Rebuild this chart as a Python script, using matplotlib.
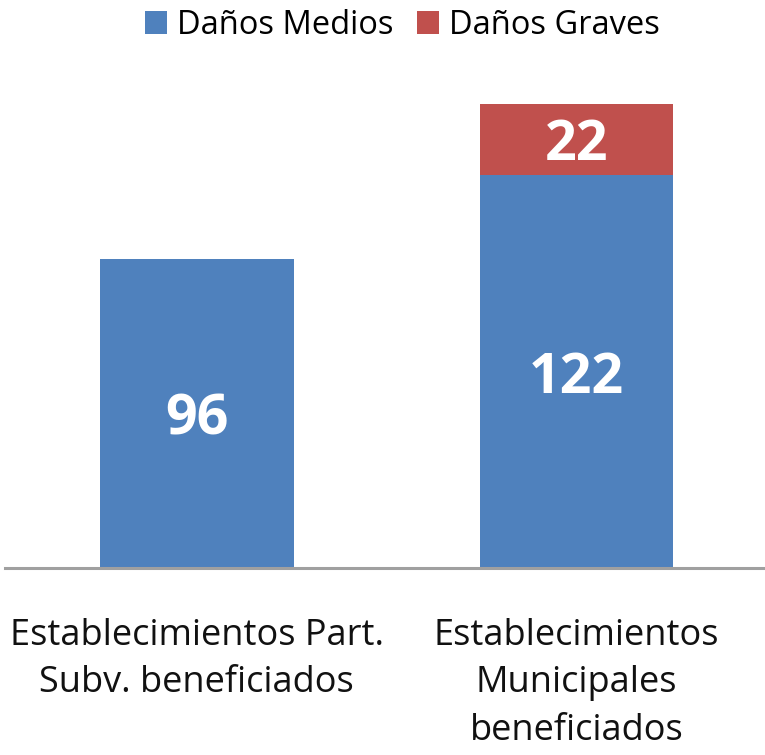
import matplotlib.pyplot as plt
import numpy as np

categories = ["Establecimientos Part.\nSubv. beneficiados",
              "Establecimientos\nMunicipales\nbeneficiados"]
medios = [96, 122]
graves = [0, 22]
series_names = ["Daños Medios", "Daños Graves"]

blue = "#4F81BD"
red = "#C0504D"

plt.rcParams['font.family'] = ['Open Sans', 'DejaVu Sans']

fig = plt.figure(figsize=(7.65, 7.55), dpi=100)
ax = fig.add_axes([5 / 765, (755 - 568) / 755, 760 / 765, (568 - 60) / 755])

x = np.arange(len(categories))
w = 0.51
b1 = ax.bar(x, medios, width=w, color=blue, label=series_names[0])
b2 = ax.bar(x, graves, width=w, bottom=medios, color=red, label=series_names[1])

# value labels in the middle of each segment
for i in range(len(x)):
    ax.annotate(str(medios[i]), (x[i], medios[i] / 2), xytext=(0, -5),
                textcoords="offset points", ha="center", va="center",
                color="white", fontsize=40, fontweight="bold")
    if graves[i] > 0:
        ax.annotate(str(graves[i]), (x[i], medios[i] + graves[i] / 2), xytext=(0, -4),
                    textcoords="offset points", ha="center", va="center",
                    color="white", fontsize=40, fontweight="bold")

ax.set_xlim(-0.505, 1.497)
ax.set_ylim(0, 157.8)
ax.set_yticks([])
ax.set_xticks(x)
ax.set_xticklabels(categories, fontsize=26, color="#111111", linespacing=1.42)
ax.tick_params(axis="x", length=0, pad=36)
for s in ["top", "right", "left"]:
    ax.spines[s].set_visible(False)
ax.spines["bottom"].set_color("#A0A0A0")
ax.spines["bottom"].set_linewidth(2.2)

fig.legend(handles=[b1, b2], labels=series_names, loc="upper center",
           bbox_to_anchor=(0.526, 1.027), ncol=2, frameon=False, fontsize=23.5,
           handlelength=0.7, handleheight=0.7, handletextpad=0.3, columnspacing=0.7)

fig.savefig("out.png", dpi=100)
